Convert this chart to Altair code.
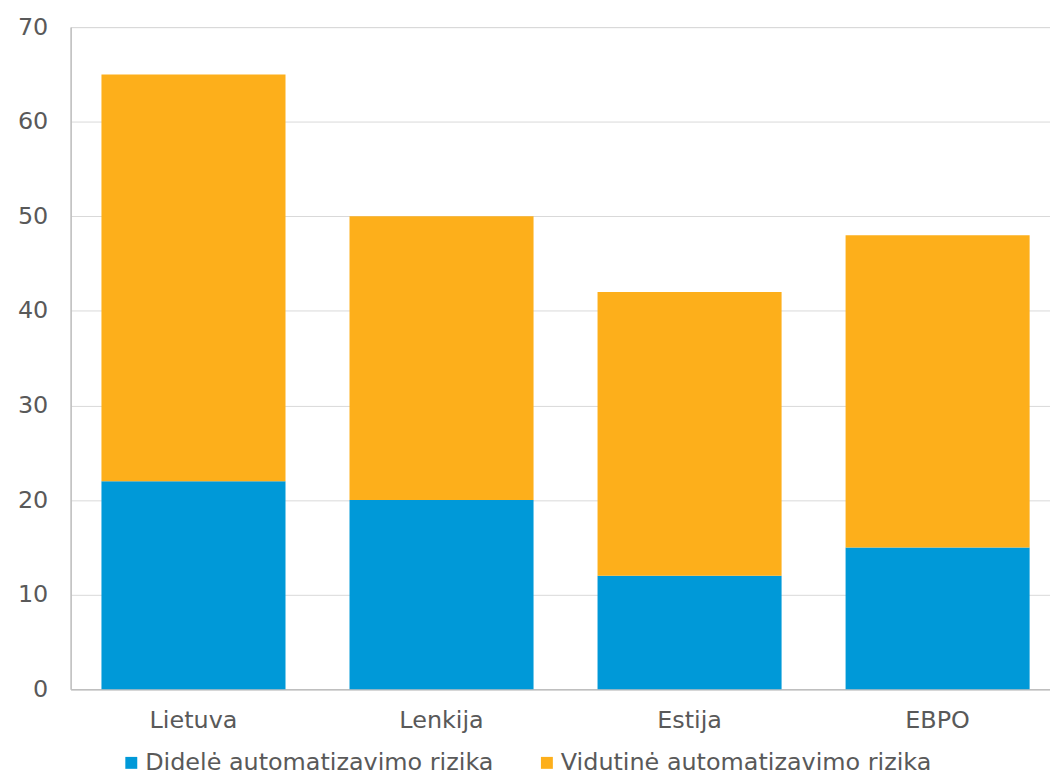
import altair as alt
import pandas as pd

countries = ["Lietuva", "Lenkija", "Estija", "EBPO"]
high_risk = [22, 20, 12, 15]
total_risk = [65, 50, 42, 48]
series = ["Didelė automatizavimo rizika", "Vidutinė automatizavimo rizika"]
colors = ["#0099D8", "#FDAF1B"]

rows = []
for c, h, t in zip(countries, high_risk, total_risk):
    rows.append({"country": c, "series": series[0], "value": h, "ord": 0})
    rows.append({"country": c, "series": series[1], "value": t - h, "ord": 1})
df = pd.DataFrame(rows)

FONT = "DejaVu Sans"

chart = alt.Chart(df).mark_bar().encode(
    x=alt.X("country:N", sort=countries, title=None,
            scale=alt.Scale(paddingInner=0.258, paddingOuter=0.1032, align=0.602),
            axis=alt.Axis(labelAngle=0, labelFontSize=24, labelColor="#595959",
                          labelFont=FONT, ticks=False, labelPadding=19,
                          domainColor="#bfbfbf", domainWidth=1.5)),
    y=alt.Y("value:Q", stack="zero", title=None,
            scale=alt.Scale(domain=[0, 70], nice=False),
            axis=alt.Axis(values=list(range(0, 71, 10)), labelFontSize=24,
                          labelColor="#595959", labelFont=FONT, ticks=False,
                          labelPadding=23, gridColor="#d9d9d9", domainColor="#bfbfbf",
                          domainWidth=1.5)),
    color=alt.Color("series:N", sort=series,
                    scale=alt.Scale(domain=series, range=colors),
                    legend=alt.Legend(title=None, orient="none", direction="horizontal",
                                      legendX=49, legendY=728, padding=0,
                                      symbolType="square", symbolSize=144,
                                      symbolStrokeWidth=0, labelFontSize=24,
                                      labelFont=FONT, labelColor="#595959",
                                      labelOffset=2, columnPadding=41,
                                      labelLimit=600)),
    order=alt.Order("ord:Q", sort="ascending"),
).properties(
    width=985,
    height=666,
    autosize=alt.AutoSizeParams(type="none"),
    padding={"left": 63, "top": 17, "right": 0, "bottom": 84},
).configure_view(stroke=None).configure(background="white")

chart.save("out.html", embed_options={"renderer": "svg", "actions": False})
